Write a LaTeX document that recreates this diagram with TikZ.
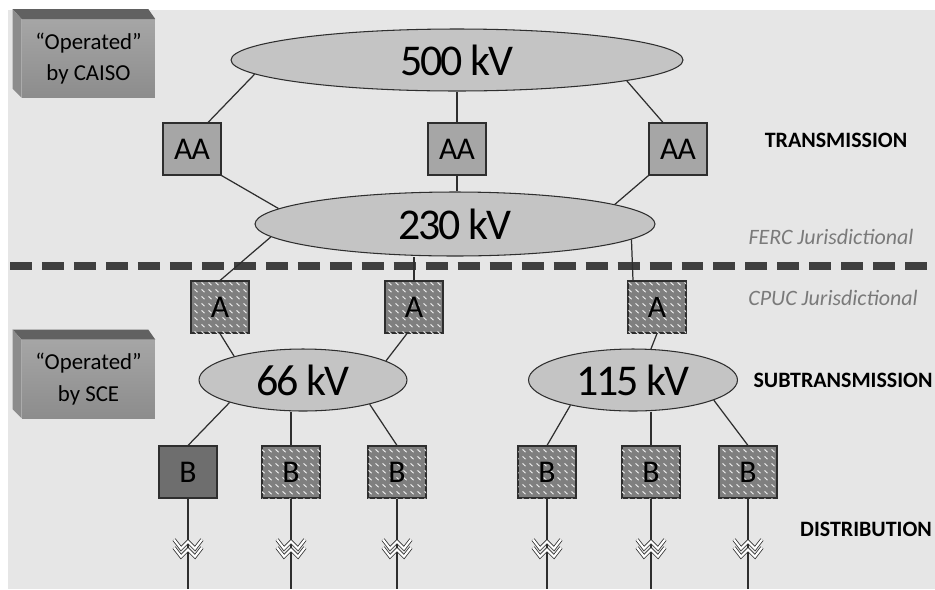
\documentclass[tikz,border=0pt]{standalone}
\usepackage{fontspec}
\setmainfont{Carlito}
\usepackage{tikz}
\usetikzlibrary{positioning,calc,shapes.geometric,patterns.meta}
\definecolor{bgGray}{HTML}{E6E6E6}
\definecolor{busGray}{HTML}{C4C4C4}
\definecolor{aaGray}{HTML}{A6A6A6}
\definecolor{subGray}{HTML}{7F7F7F}
\definecolor{solidGray}{HTML}{6E6E6E}
\definecolor{lineGray}{HTML}{2E2E2E}
\definecolor{labelGray}{HTML}{7A7A7A}
\definecolor{dashGray}{HTML}{3F3F3F}
\pgfdeclarepattern{
  name=ticks, type=uncolored,
  bottom left={\pgfpoint{0pt}{0pt}}, top right={\pgfpoint{3.8pt}{3.8pt}},
  tile size={\pgfpoint{3.8pt}{3.8pt}},
  code={\pgfsetlinewidth{0.55pt}\pgfsetroundcap
    \pgfpathmoveto{\pgfpoint{1.0pt}{2.6pt}}\pgfpathlineto{\pgfpoint{2.6pt}{1.2pt}}\pgfusepath{stroke}}}
\tikzset{
  bus/.style={ellipse, draw=lineGray, fill=busGray, line width=0.6pt, inner sep=0pt,
    font=\fontsize{25}{27}\selectfont\addfontfeatures{LetterSpace=-5}},
  aabox/.style={draw=lineGray, fill=aaGray, line width=0.6pt, minimum width=1.16cm, minimum height=1.04cm, inner sep=0pt,
    font=\fontsize{18}{20}\selectfont\addfontfeatures{LetterSpace=-3}},
  subbox/.style={aabox, fill=subGray, postaction={pattern=ticks, pattern color=white!88!subGray}},
  solidbox/.style={aabox, fill=solidGray},
  wire/.style={draw=lineGray, line width=0.7pt},
  level/.style={font=\fontsize{12.5}{14}\selectfont\bfseries},
  juris/.style={text=labelGray, font=\fontsize{12.5}{14}\selectfont\itshape},
  opface/.style={minimum width=2.66cm, minimum height=1.56cm, inner sep=0pt, align=center,
    top color=black!35, middle color=white, bottom color=black!45, font=\fontsize{13}{18}\selectfont},
  brk/.pic={
    \foreach \dy in {0,8}{
      \draw[lineGray, line width=0.45pt, double=white, double distance=1.2pt]
        (-14,{-9+\dy}) -- (-7,\dy) -- (0,{-7+\dy}) -- (7,\dy) -- (14,{-9+\dy});}
  }
}
\begin{document}
\begin{tikzpicture}[x=0.02cm, y=-0.02cm]
\useasboundingbox (0,0) rectangle (935,589);
\fill[bgGray] (8,10) rectangle (935,589);

% operated boxes
\foreach \n/\y/\t in {caiso/58.5/by CAISO, sce/379/by SCE}{
  \node[opface] (\n) at (88.5,\y) {``Operated''\\\t};
  \fill[black!62] (\n.north west) -- ++(-9,-10) -- ($(\n.north east)+(-7,-10)$) -- (\n.north east) -- cycle;
  \fill[black!45] (\n.north west) -- ++(-9,-10) -- ($(\n.south west)+(-9,-9)$) -- (\n.south west) -- cycle;
}

% buses
\node[bus, minimum width=9.04cm, minimum height=1.24cm] (kv500) at (457,60) {500 kV};
\node[bus, minimum width=8cm, minimum height=1.28cm] (kv230) at (455,224) {230 kV};
\node[bus, minimum width=4.16cm, minimum height=1.24cm] (kv66) at (303,380) {66 kV};
\node[bus, minimum width=4.18cm, minimum height=1.24cm] (kv115) at (633,380) {115 kV};

% transformers
\node[aabox] (aa1) at (192,149) {AA};
\node[aabox] (aa2) at (457,149) {AA};
\node[aabox] (aa3) at (678,149) {AA};
\node[subbox] (a1) at (220,307) {A};
\node[subbox] (a2) at (414,307) {A};
\node[subbox] (a3) at (657,307) {A};
\node[solidbox] (b1) at (188,472) {B};
\node[subbox] (b2) at (291,472) {B};
\node[subbox] (b3) at (397,472) {B};
\node[subbox] (b4) at (547,472) {B};
\node[subbox] (b5) at (651,472) {B};
\node[subbox] (b6) at (748,472) {B};

% jurisdiction line
\draw[dashGray, line width=4pt, dash pattern=on 12.5pt off 5.7pt] (10,266) -- (935,266);

% connections
\draw[wire] ($(aa1.north)+(16,0)$) -- (kv500.184.6);
\draw[wire] (aa2.north) -- (aa2.north |- kv500.south);
\draw[wire] ($(aa3.north)+(-15,0)$) -- (kv500.353.4);
\draw[wire] (aa1.south east) -- (kv230.175.5);
\draw[wire] (aa2.south) -- (aa2.south |- kv230.north);
\draw[wire] (aa3.south west) -- (kv230.7.2);
\draw[wire] (kv230.184.8) -- (a1.north);
\draw[wire] (a2.north) -- (a2.north |- kv230.south);
\draw[wire] (kv230.355.3) -- ($(a3.north)+(-24,0)$);
\draw[wire] (a1.south) -- (kv66.161.9);
\draw[wire] ($(a2.south)+(-7,0)$) -- (kv66.13.9);
\draw[wire] (a3.south) -- (kv115.60);
\draw[wire] (kv66.197.7) -- (b1.north);
\draw[wire] (b2.north) -- (b2.north |- kv66.south);
\draw[wire] (kv66.340.5) -- (b3.north);
\draw[wire] (kv115.202.9) -- (b4.north);
\draw[wire] (b5.north) -- (b5.north |- kv115.south);
\draw[wire] (kv115.346) -- (b6.north);

% feeders
\foreach \b in {b1,b2,b3,b4,b5,b6}{
  \coordinate (\b end) at (\b.south |- 0,589);
  \draw[wire] (\b.south) -- (\b end);
  \pic at ($(\b.south)+(0,50)$) {brk};
}

% labels
\node[level] (trans) at (836,140) {TRANSMISSION};
\node[juris] (ferc) at (831,237) {FERC Jurisdictional};
\node[juris] (cpuc) at (833,298) {CPUC Jurisdictional};
\node[level] (subtrans) at (843,380) {SUBTRANSMISSION};
\node[level] (dist) at (866,529) {DISTRIBUTION};
\end{tikzpicture}
\end{document}
